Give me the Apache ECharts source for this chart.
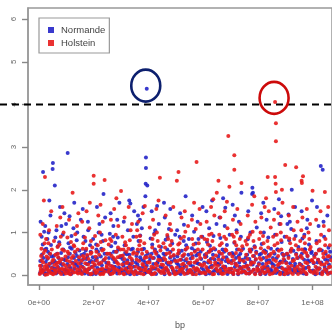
<!DOCTYPE html>
<html><head><meta charset="utf-8">
<script src="https://cdn.jsdelivr.net/npm/echarts@6/dist/echarts.min.js"></script>
<style>html,body{margin:0;padding:0;background:#fff}#c{width:332px;height:335px}</style>
</head><body><div id="c"></div>
<script>
// positions in Mb (axis labels show bp), values = -log10(p)
const xTicks = [0, 20, 40, 60, 80, 100];
const yTicks = [0, 1, 2, 3, 4, 5, 6];
const threshold = 4;
const seriesNames = ['Normande', 'Holstein'];
const circledNormande = [39.4, 4.37];
const circledHolstein = [86.3, 4.06];

const normande = [
[0.4,0.05],[0.8,0.22],[1.2,0.12],[1.6,0.4],[2.1,0.02],[2.5,0.31],[2.9,0.15],[3.3,0.55],[3.6,0.08],[4.0,0.27],[4.4,0.71],[4.8,0.18],[1.0,0.9],[2.3,1.15],[3.1,0.85],[4.2,1.4],[0.6,1.25],[1.5,2.42],[3.8,1.75],[2.7,0.62],[1.9,1.02],[4.6,0.44],
[5.1,2.63],[5.0,2.49],[5.8,2.1],[5.3,0.1],[5.7,0.33],[6.2,0.04],[6.6,0.5],[7.0,0.19],[7.4,0.77],[7.9,0.28],[8.3,0.06],[8.7,0.95],[9.1,0.37],[9.5,0.13],[9.9,1.2],[6.4,1.05],[7.7,1.6],[8.9,0.6],[6.0,0.88],[9.3,1.45],[10.5,2.86],
[10.2,0.09],[10.6,0.42],[11.0,0.2],[11.4,0.65],[11.8,0.03],[12.2,0.3],[12.6,1.1],[13.0,0.15],[13.4,0.52],[13.8,0.82],[14.2,0.07],[14.6,0.36],[11.2,1.38],[12.9,1.7],[14.0,1.0],[10.8,0.75],[13.6,0.24],
[15.1,0.11],[15.5,0.47],[15.9,0.2],[16.3,0.9],[16.7,0.04],[17.1,0.58],[17.5,0.26],[17.9,1.25],[18.3,0.14],[18.7,0.7],[19.1,0.33],[19.5,0.02],[16.0,1.55],[18.0,1.05],[19.8,0.85],[15.3,1.3],[17.3,0.38],
[20.2,0.08],[20.6,0.35],[21.0,0.6],[21.4,0.17],[21.8,1.0],[22.2,0.05],[22.6,0.44],[23.0,0.23],[23.4,0.8],[23.8,0.12],[24.2,1.35],[24.6,0.29],[21.2,1.6],[23.6,1.9],[22.9,0.95],[20.9,0.72],[24.9,0.5],
[25.2,0.14],[25.6,0.4],[26.0,0.03],[26.4,0.68],[26.8,0.21],[27.2,1.15],[27.6,0.31],[28.0,0.09],[28.4,0.55],[28.8,0.88],[29.2,0.18],[29.6,0.42],[26.2,1.45],[28.6,1.3],[27.9,0.76],[25.9,0.97],[29.4,1.7],
[30.1,0.06],[30.5,0.38],[30.9,0.22],[31.3,0.7],[31.7,0.12],[32.1,0.49],[32.5,1.05],[32.9,0.27],[33.3,0.02],[33.7,0.6],[34.1,0.34],[34.5,0.9],[33.0,1.75],[33.4,1.68],[31.0,1.25],[34.8,1.5],[32.0,0.16],
[35.2,0.1],[35.6,0.45],[36.0,0.25],[36.4,0.8],[36.8,0.05],[37.2,0.36],[37.6,1.1],[38.0,0.19],[38.4,0.62],[38.8,0.3],[39.2,0.07],[39.8,0.5],[39.1,2.76],[39.1,2.51],[39.0,2.14],[39.6,2.1],[39.4,4.37],[36.2,1.4],[38.2,1.6],[37.0,0.93],[35.8,1.2],[38.9,1.85],
[40.2,0.13],[40.6,0.4],[41.0,0.04],[41.4,0.72],[41.8,0.26],[42.2,0.98],[42.6,0.15],[43.0,0.53],[43.4,0.31],[43.8,1.2],[44.2,0.08],[44.6,0.66],[41.2,1.5],[43.2,1.62],[40.8,0.86],[44.0,0.42],
[45.1,0.18],[45.5,0.5],[45.9,0.02],[46.3,0.83],[46.7,0.29],[47.1,0.11],[47.5,1.08],[47.9,0.41],[48.3,0.2],[48.7,0.74],[49.1,0.05],[49.5,0.36],[46.0,1.35],[48.0,1.55],[49.8,0.95],[45.7,1.7],
[50.2,0.09],[50.6,0.44],[51.0,0.24],[51.4,0.9],[51.8,0.03],[52.2,0.57],[52.6,0.16],[53.0,1.18],[53.4,0.35],[53.8,0.7],[54.2,0.12],[54.6,0.48],[51.6,1.45],[53.6,1.85],[52.9,0.8],[50.5,1.05],
[55.1,0.07],[55.5,0.39],[55.9,0.63],[56.3,0.21],[56.7,1.02],[57.1,0.1],[57.5,0.46],[57.9,0.28],[58.3,0.85],[58.7,0.04],[59.1,0.55],[59.5,0.17],[56.0,1.4],[58.0,1.25],[59.8,1.6],[57.3,0.74],
[60.2,0.12],[60.6,0.47],[61.0,0.02],[61.4,0.78],[61.8,0.3],[62.2,1.1],[62.6,0.19],[63.0,0.58],[63.4,0.06],[63.8,0.92],[64.2,0.37],[64.6,0.14],[61.2,1.5],[63.3,1.75],[62.5,0.69],[64.9,1.2],
[65.1,0.1],[65.5,0.43],[65.9,0.25],[66.3,0.87],[66.7,0.05],[67.1,0.6],[67.5,0.18],[67.9,1.15],[68.3,0.33],[68.7,0.71],[69.1,0.08],[69.5,0.5],[66.0,1.35],[68.1,1.58],[69.7,0.95],[67.3,1.8],
[70.2,0.15],[70.6,0.52],[71.0,0.03],[71.4,0.76],[71.8,0.27],[72.2,1.05],[72.6,0.11],[73.0,0.45],[73.4,0.2],[73.8,0.9],[74.2,0.06],[74.6,0.62],[74.0,1.93],[71.6,1.4],[73.1,1.25],[70.8,1.65],
[75.1,0.09],[75.5,0.41],[75.9,0.22],[76.3,0.84],[76.7,0.04],[77.1,0.56],[77.5,0.31],[77.9,1.9],[78.0,2.05],[78.2,1.93],[78.4,0.13],[78.8,0.68],[79.2,0.36],[79.6,1.12],[76.5,1.5],[77.3,1.0],
[80.2,0.12],[80.6,0.48],[81.0,0.02],[81.4,0.73],[81.8,0.26],[82.2,1.0],[82.6,0.17],[83.0,0.55],[83.4,0.08],[83.8,0.88],[84.2,0.35],[84.6,0.14],[81.2,1.45],[83.2,1.3],[82.0,1.7],[84.8,0.62],
[85.1,0.1],[85.5,0.4],[85.9,0.23],[86.3,0.95],[86.7,0.05],[87.1,0.6],[87.5,0.19],[87.9,1.2],[88.3,0.32],[88.7,0.78],[89.1,0.07],[89.5,0.46],[86.0,1.55],[88.5,1.38],[89.8,0.9],[87.7,1.78],
[90.2,0.14],[90.6,0.5],[91.0,0.03],[91.4,0.82],[91.8,0.28],[92.2,1.08],[92.6,0.12],[92.4,2.0],[93.0,0.57],[93.4,0.2],[93.8,0.92],[94.2,0.06],[94.6,0.4],[91.2,1.42],[93.6,1.6],[90.8,1.2],
[95.1,0.09],[95.5,0.44],[95.9,0.24],[96.3,0.86],[96.7,0.04],[97.1,0.61],[97.5,0.17],[97.9,1.1],[98.3,0.35],[98.7,0.72],[99.1,0.1],[99.5,0.52],[96.0,1.5],[98.1,1.3],[99.8,1.75],[97.0,0.95],
[100.2,0.11],[100.6,0.46],[101.0,0.02],[101.4,0.8],[101.8,0.3],[102.2,1.15],[102.6,0.15],[103.0,2.56],[103.7,2.47],[103.4,0.58],[103.8,0.08],[104.2,0.9],[104.6,0.37],[105.0,0.13],[105.4,1.4],[105.8,0.64],[106.2,0.05],[106.6,0.42],[101.6,1.6],[104.0,1.25],
[0.5,0.33],[1.1,0.48],[1.8,0.1],[2.2,0.6],[2.6,0.04],[3.0,0.38],[3.4,0.21],[3.9,0.5],[4.3,0.09],[4.9,0.3],[1.4,0.72],[3.5,1.0],
[5.4,0.45],[5.9,0.15],[6.3,0.29],[6.8,0.07],[7.2,0.4],[7.6,0.12],[8.1,0.52],[8.5,0.24],[9.0,0.03],[9.7,0.35],[6.9,0.68],[8.2,1.15],
[10.4,0.26],[10.9,0.05],[11.3,0.5],[11.6,0.17],[12.0,0.62],[12.4,0.08],[12.8,0.4],[13.2,0.27],[13.9,0.45],[14.4,0.19],[14.8,0.58],[11.9,0.92],
[15.3,0.28],[15.7,0.06],[16.1,0.37],[16.5,0.5],[16.9,0.13],[17.7,0.45],[18.1,0.03],[18.5,0.3],[18.9,0.55],[19.3,0.2],[19.7,0.42],[17.0,0.8],
[20.4,0.22],[20.8,0.03],[21.2,0.4],[21.6,0.55],[22.0,0.28],[22.4,0.13],[22.8,0.62],[23.2,0.06],[23.6,0.35],[24.0,0.5],[24.4,0.1],[22.1,1.2],
[25.4,0.27],[25.8,0.06],[26.2,0.5],[26.6,0.12],[27.0,0.38],[27.4,0.55],[27.8,0.2],[28.2,0.32],[28.6,0.04],[29.0,0.6],[29.8,0.14],[27.1,0.9],
[30.3,0.45],[30.7,0.1],[31.1,0.3],[31.5,0.52],[31.9,0.04],[32.3,0.35],[32.7,0.18],[33.1,0.48],[33.5,0.25],[33.9,0.08],[34.3,0.62],[34.7,0.2],
[35.4,0.3],[35.8,0.03],[36.2,0.55],[36.6,0.18],[37.0,0.42],[37.4,0.11],[37.8,0.6],[38.2,0.35],[38.6,0.04],[39.0,0.45],[39.4,0.22],[36.9,1.3],
[40.4,0.33],[40.8,0.06],[41.2,0.5],[41.6,0.15],[42.0,0.4],[42.4,0.6],[42.8,0.03],[43.2,0.28],[43.6,0.45],[44.4,0.2],[44.8,0.38],[42.5,1.05],
[45.3,0.35],[45.7,0.07],[46.1,0.48],[46.5,0.14],[46.9,0.6],[47.3,0.25],[47.7,0.04],[48.1,0.55],[48.5,0.32],[48.9,0.12],[49.3,0.45],[47.0,0.9],
[50.4,0.28],[50.8,0.05],[51.2,0.52],[51.6,0.18],[52.0,0.36],[52.4,0.08],[52.8,0.45],[53.2,0.22],[53.6,0.6],[54.0,0.04],[54.4,0.3],[54.8,0.85],
[55.3,0.24],[55.7,0.1],[56.1,0.45],[56.5,0.03],[56.9,0.58],[57.3,0.3],[57.7,0.14],[58.1,0.5],[58.5,0.26],[58.9,0.07],[59.3,0.38],[59.7,0.9],
[60.4,0.3],[60.8,0.07],[61.2,0.44],[61.6,0.16],[62.0,0.55],[62.4,0.04],[62.8,0.38],[63.2,0.22],[63.6,0.48],[64.0,0.1],[64.4,0.6],[64.8,0.28],
[65.3,0.27],[65.7,0.04],[66.1,0.5],[66.5,0.15],[66.9,0.36],[67.3,0.09],[67.7,0.55],[68.1,0.2],[68.5,0.42],[68.9,0.03],[69.3,0.3],[69.9,0.14],
[70.4,0.33],[70.8,0.06],[71.2,0.48],[71.6,0.19],[72.0,0.4],[72.4,0.6],[72.8,0.02],[73.2,0.3],[73.6,0.5],[74.0,0.16],[74.4,0.36],[74.8,0.09],
[75.3,0.3],[75.7,0.05],[76.1,0.48],[76.5,0.16],[76.9,0.38],[77.3,0.08],[77.7,0.6],[78.1,0.25],[78.6,0.45],[79.0,0.04],[79.4,0.55],[79.8,0.2],
[80.4,0.28],[80.8,0.06],[81.2,0.5],[81.6,0.12],[82.0,0.4],[82.4,0.58],[82.8,0.03],[83.2,0.34],[83.6,0.2],[84.0,0.47],[84.4,0.08],[84.8,0.3],
[85.3,0.26],[85.7,0.05],[86.1,0.5],[86.5,0.14],[86.9,0.4],[87.3,0.6],[87.7,0.08],[88.1,0.3],[88.5,0.18],[88.9,0.5],[89.3,0.03],[89.7,0.35],
[90.4,0.3],[90.8,0.05],[91.2,0.45],[91.6,0.16],[92.0,0.58],[92.8,0.38],[93.2,0.08],[93.6,0.27],[94.0,0.5],[94.4,0.13],[94.8,0.66],[91.7,1.25],
[95.3,0.27],[95.7,0.06],[96.1,0.5],[96.5,0.14],[96.9,0.36],[97.3,0.6],[97.7,0.03],[98.1,0.45],[98.5,0.2],[98.9,0.32],[99.3,0.09],[99.7,0.55],
[100.4,0.28],[100.8,0.07],[101.2,0.5],[101.6,0.17],[102.0,0.36],[102.4,0.6],[102.8,0.04],[103.2,0.3],[104.4,0.2],[104.8,0.5],[105.2,0.06],[105.6,0.35],[106.0,0.25],[106.4,0.55]
];

const holstein = [
[0.3,0.03],[0.7,0.15],[1.0,0.35],[1.3,0.08],[1.7,0.52],[2.0,0.2],[2.4,0.01],[2.8,0.44],[3.2,0.12],[3.5,0.75],[3.9,0.27],[4.3,0.05],[4.7,0.6],[0.5,0.95],[1.4,1.2],[2.6,0.85],[3.7,1.05],[4.5,1.5],[2.2,2.3],[1.8,1.75],[4.9,0.33],[0.9,0.62],[3.0,0.18],
[5.2,0.02],[5.6,0.24],[6.0,0.48],[6.3,0.1],[6.8,0.66],[7.2,0.3],[7.6,0.06],[8.0,0.9],[8.4,0.38],[8.8,0.14],[9.2,0.57],[9.6,0.22],[6.5,1.15],[7.8,1.35],[9.0,1.0],[5.5,0.8],[8.6,1.6],[9.8,0.04],[7.0,0.42],
[10.1,0.16],[10.5,0.55],[10.9,0.04],[11.3,0.32],[11.7,0.78],[12.1,0.11],[12.5,0.45],[12.9,0.2],[13.3,0.96],[13.7,0.07],[14.1,0.6],[14.5,0.28],[14.9,0.13],[12.3,1.93],[11.0,1.3],[13.9,1.15],[12.7,0.7],[10.4,0.88],[14.4,1.45],
[15.2,0.05],[15.6,0.34],[16.0,0.62],[16.4,0.17],[16.8,0.88],[17.2,0.09],[17.6,0.47],[18.0,0.25],[18.4,1.1],[18.8,0.02],[19.2,0.53],[19.6,0.19],[20.0,2.33],[20.0,2.14],[15.8,1.25],[17.4,1.5],[19.0,0.8],[16.6,0.4],[18.6,1.7],
[20.3,0.12],[20.7,0.43],[21.1,0.07],[21.5,0.7],[21.9,0.26],[22.3,1.0],[22.7,0.14],[23.1,0.58],[23.5,0.03],[23.9,0.36],[24.3,0.82],[24.7,0.18],[24.0,2.23],[21.7,1.4],[23.3,1.25],[22.5,1.65],[20.5,0.92],[24.9,0.5],
[25.3,0.08],[25.7,0.5],[26.1,0.22],[26.5,0.8],[26.9,0.04],[27.3,0.4],[27.7,0.15],[28.1,0.95],[28.5,0.3],[28.9,0.65],[29.3,0.1],[29.7,0.45],[30.0,1.97],[26.3,1.3],[27.5,1.55],[29.0,1.15],[25.5,0.72],[28.3,1.8],
[30.3,0.14],[30.7,0.46],[31.1,0.02],[31.5,0.77],[31.9,0.28],[32.3,0.1],[32.7,0.62],[33.1,0.2],[33.5,1.05],[33.9,0.38],[34.3,0.06],[34.7,0.54],[31.3,1.35],[32.8,1.6],[34.0,1.2],[30.5,0.9],[33.2,0.82],
[35.3,0.09],[35.7,0.37],[36.1,0.6],[36.5,0.16],[36.9,0.92],[37.3,0.04],[37.7,0.5],[38.1,0.24],[38.5,0.75],[38.9,0.12],[39.3,0.42],[39.7,0.3],[36.3,1.25],[37.9,1.45],[35.9,1.05],[38.7,1.62],[37.1,0.8],
[40.3,0.07],[40.7,0.45],[41.1,0.2],[41.5,0.85],[41.9,0.03],[42.3,0.56],[42.7,0.27],[43.1,1.0],[43.5,0.13],[43.9,0.68],[44.3,0.35],[44.7,0.05],[44.2,2.28],[41.7,1.3],[42.9,1.55],[40.5,1.12],[43.7,1.75],
[45.3,0.11],[45.7,0.4],[46.1,0.65],[46.5,0.18],[46.9,0.94],[47.3,0.06],[47.7,0.52],[48.1,0.29],[48.5,0.8],[48.9,0.15],[49.3,0.47],[49.7,0.02],[46.3,1.4],[47.9,1.2],[49.1,1.6],[45.5,0.75],[48.3,1.05],
[50.3,0.04],[50.7,0.33],[51.1,0.58],[51.5,0.12],[51.9,0.86],[52.3,0.25],[52.7,0.07],[53.1,0.49],[53.5,1.02],[53.9,0.2],[54.3,0.64],[54.7,0.1],[51.0,2.42],[50.4,2.21],[52.1,1.35],[53.3,1.5],[54.5,1.15],[50.9,0.72],
[55.3,0.13],[55.7,0.5],[56.1,0.03],[56.5,0.72],[56.9,0.3],[57.3,1.08],[57.7,0.16],[58.1,0.6],[58.5,0.08],[58.9,0.4],[59.3,0.9],[59.7,0.22],[57.6,2.65],[55.9,1.3],[58.7,1.55],[56.7,1.7],[59.0,1.2],
[60.3,0.06],[60.7,0.42],[61.1,0.19],[61.5,0.83],[61.9,0.1],[62.3,0.55],[62.7,0.3],[63.1,0.97],[63.5,0.02],[63.9,0.63],[64.3,0.24],[64.7,0.46],[65.0,1.93],[61.3,1.25],[62.9,1.6],[64.1,1.4],[60.5,0.85],[63.7,1.78],
[65.3,0.1],[65.6,2.21],[65.7,0.36],[66.1,0.7],[66.5,0.05],[66.9,0.5],[67.3,0.21],[67.7,0.9],[68.1,0.14],[68.5,0.58],[68.9,1.1],[69.2,3.26],[69.6,2.07],[69.3,0.32],[69.7,0.07],[66.3,1.35],[67.9,1.5],[68.7,1.72],[65.9,0.95],
[70.3,0.15],[70.7,0.44],[71.1,0.03],[71.4,2.81],[71.4,2.47],[71.5,0.78],[71.9,0.26],[72.3,1.0],[72.7,0.11],[73.1,0.6],[73.5,0.35],[73.9,0.07],[74.0,2.16],[74.3,0.68],[74.7,0.2],[70.9,1.3],[72.5,1.55],[73.7,1.2],[71.2,0.9],
[75.3,0.08],[75.7,0.48],[76.1,0.22],[76.5,0.88],[76.9,0.04],[77.3,0.55],[77.7,0.3],[78.1,1.02],[78.5,0.13],[78.9,0.65],[79.3,0.38],[79.7,0.1],[76.3,1.4],[77.9,1.65],[79.1,1.25],[75.5,0.8],[78.7,1.85],
[80.3,0.12],[80.7,0.4],[81.1,0.63],[81.5,0.18],[81.9,0.92],[82.3,0.05],[82.7,0.52],[83.1,0.27],[83.6,2.3],[83.5,0.8],[83.9,0.09],[84.3,0.45],[84.7,1.12],[81.3,1.35],[82.5,1.6],[84.0,1.5],[80.5,0.85],[83.0,1.8],
[85.3,0.04],[85.7,0.36],[86.1,0.7],[86.3,4.06],[86.6,3.56],[86.6,3.14],[86.3,2.3],[86.5,2.14],[86.6,1.95],[86.5,0.15],[86.9,0.95],[87.3,0.24],[87.7,0.57],[88.1,0.02],[88.5,0.82],[88.8,2.0],[88.9,0.3],[89.3,0.48],[89.7,0.13],[85.9,1.3],[87.5,1.45],[88.3,1.2],[89.0,1.7],
[90.0,2.58],[90.3,0.1],[90.7,0.5],[91.1,0.2],[91.5,0.86],[91.9,0.06],[92.3,0.62],[92.7,0.33],[93.1,1.05],[93.5,0.15],[93.9,0.7],[94.0,2.53],[94.3,0.4],[94.7,0.03],[91.3,1.4],[92.9,1.6],[94.5,1.25],[90.5,0.9],
[95.3,0.14],[95.7,0.45],[96.0,2.21],[96.1,2.16],[96.1,0.6],[96.5,2.32],[96.5,0.2],[96.9,0.9],[97.3,0.07],[97.7,0.52],[98.1,0.28],[98.5,1.0],[98.9,0.11],[99.3,0.66],[99.7,0.35],[100.0,1.98],[96.3,1.35],[97.9,1.55],[99.1,1.2],[95.5,0.8],
[100.3,0.05],[100.7,0.42],[101.1,0.2],[101.5,0.75],[101.9,0.12],[102.3,0.58],[102.7,0.3],[103.1,0.95],[103.5,0.02],[103.9,0.5],[104.3,0.25],[104.5,1.95],[104.7,0.85],[105.1,0.1],[105.5,0.44],[105.9,0.18],[106.3,0.7],[106.7,0.06],[101.3,1.3],[102.9,1.5],[104.1,1.15],[105.7,1.6],[106.0,1.05],
[0.4,0.22],[0.8,0.45],[1.1,0.06],[1.5,0.3],[1.9,0.12],[2.3,0.58],[2.7,0.24],[3.1,0.02],[3.4,0.4],[3.8,0.1],[4.1,0.5],[4.6,0.16],[4.8,0.04],[2.1,0.75],[0.6,0.1],
[5.3,0.36],[5.8,0.12],[6.1,0.05],[6.5,0.28],[6.9,0.5],[7.3,0.14],[7.7,0.33],[8.1,0.03],[8.5,0.6],[8.9,0.26],[9.3,0.08],[9.7,0.44],[6.7,0.2],[8.3,0.15],[7.5,0.72],
[10.2,0.35],[10.6,0.1],[11.1,0.22],[11.5,0.02],[11.9,0.4],[12.3,0.27],[12.7,0.06],[13.1,0.55],[13.5,0.33],[13.9,0.14],[14.3,0.04],[14.7,0.42],[11.3,0.12],[12.9,0.68],[10.8,0.5],
[15.3,0.2],[15.7,0.03],[16.1,0.45],[16.5,0.1],[16.9,0.28],[17.3,0.62],[17.7,0.07],[18.1,0.38],[18.5,0.16],[18.9,0.5],[19.3,0.04],[19.7,0.3],[16.2,0.75],[17.9,0.14],[19.5,0.65],
[20.4,0.25],[20.8,0.05],[21.2,0.34],[21.6,0.12],[22.0,0.48],[22.4,0.02],[22.8,0.3],[23.2,0.15],[23.6,0.6],[24.0,0.08],[24.4,0.4],[24.8,0.22],[21.0,0.55],[23.0,0.04],[22.6,0.78],
[25.4,0.3],[25.8,0.14],[26.2,0.03],[26.6,0.45],[27.0,0.2],[27.4,0.07],[27.8,0.36],[28.2,0.55],[28.6,0.12],[29.0,0.26],[29.4,0.04],[29.8,0.6],[26.0,0.85],[27.2,0.15],[28.8,0.42],
[30.4,0.25],[30.8,0.04],[31.2,0.38],[31.6,0.15],[32.0,0.55],[32.4,0.3],[32.8,0.06],[33.2,0.42],[33.6,0.12],[34.0,0.28],[34.4,0.5],[34.8,0.02],[31.8,0.7],[33.8,0.18],[30.9,0.6],
[35.4,0.2],[35.8,0.5],[36.2,0.05],[36.6,0.33],[37.0,0.14],[37.4,0.6],[37.8,0.26],[38.2,0.02],[38.6,0.4],[39.0,0.18],[39.4,0.55],[39.8,0.08],[36.7,0.7],[38.3,0.12],[35.6,0.9],
[40.4,0.3],[40.8,0.12],[41.2,0.02],[41.6,0.4],[42.0,0.18],[42.4,0.05],[42.8,0.5],[43.2,0.22],[43.6,0.36],[44.0,0.1],[44.4,0.58],[44.8,0.25],[41.4,0.65],[43.4,0.8],[42.1,0.95],
[45.4,0.24],[45.8,0.05],[46.2,0.36],[46.6,0.5],[47.0,0.12],[47.4,0.3],[47.8,0.02],[48.2,0.44],[48.6,0.18],[49.0,0.6],[49.4,0.08],[49.8,0.33],[46.0,0.15],[48.0,0.7],[47.2,0.85],
[50.4,0.18],[50.8,0.5],[51.2,0.08],[51.6,0.36],[52.0,0.14],[52.4,0.45],[52.8,0.27],[53.2,0.03],[53.6,0.6],[54.0,0.38],[54.4,0.05],[54.8,0.28],[51.4,0.75],[53.0,0.9],[52.5,0.15],
[55.4,0.3],[55.8,0.07],[56.2,0.4],[56.6,0.17],[57.0,0.55],[57.4,0.02],[57.8,0.35],[58.2,0.13],[58.6,0.48],[59.0,0.25],[59.4,0.05],[59.8,0.6],[56.0,0.85],[58.4,0.75],[57.2,0.12],
[60.4,0.26],[60.8,0.04],[61.2,0.5],[61.6,0.12],[62.0,0.34],[62.4,0.08],[62.8,0.6],[63.2,0.18],[63.6,0.4],[64.0,0.03],[64.4,0.3],[64.8,0.15],[61.8,0.72],[63.4,0.8],[62.2,0.95],
[65.4,0.22],[65.8,0.55],[66.2,0.12],[66.6,0.3],[67.0,0.03],[67.4,0.42],[67.8,0.18],[68.2,0.6],[68.6,0.08],[69.0,0.36],[69.4,0.15],[69.8,0.5],[66.8,0.75],[68.4,0.85],[67.6,0.04],
[70.4,0.28],[70.8,0.06],[71.2,0.35],[71.6,0.12],[72.0,0.52],[72.4,0.22],[72.8,0.04],[73.2,0.4],[73.6,0.16],[74.0,0.58],[74.4,0.09],[74.8,0.33],[72.1,0.7],[73.4,0.85],[70.6,0.95],
[75.4,0.2],[75.8,0.04],[76.2,0.38],[76.6,0.14],[77.0,0.6],[77.4,0.25],[77.8,0.08],[78.2,0.45],[78.6,0.3],[79.0,0.02],[79.4,0.52],[79.8,0.16],[76.0,0.72],[78.4,0.8],[77.1,0.95],
[80.4,0.25],[80.8,0.03],[81.2,0.36],[81.6,0.1],[82.0,0.55],[82.4,0.2],[82.8,0.07],[83.2,0.42],[83.6,0.15],[84.0,0.3],[84.4,0.02],[84.8,0.5],[82.1,0.75],[83.8,0.65],[81.0,1.0],
[85.4,0.2],[85.8,0.55],[86.2,0.08],[86.6,0.33],[87.0,0.12],[87.4,0.45],[87.8,0.27],[88.2,0.05],[88.6,0.6],[89.0,0.16],[89.4,0.38],[89.8,0.02],[87.2,0.75],[85.6,0.9],[88.4,1.0],
[90.4,0.28],[90.8,0.05],[91.2,0.4],[91.6,0.14],[92.0,0.55],[92.4,0.22],[92.8,0.03],[93.2,0.35],[93.6,0.1],[94.0,0.48],[94.4,0.2],[94.8,0.6],[91.8,0.75],[93.3,0.85],[90.6,0.12],
[95.4,0.25],[95.8,0.06],[96.2,0.4],[96.6,0.12],[97.0,0.55],[97.4,0.3],[97.8,0.03],[98.2,0.45],[98.6,0.18],[99.0,0.6],[99.4,0.08],[99.8,0.35],[97.2,0.75],[98.8,0.85],[95.9,1.05],
[100.4,0.3],[100.8,0.1],[101.2,0.5],[101.6,0.04],[102.0,0.36],[102.4,0.16],[102.8,0.6],[103.2,0.25],[103.6,0.07],[104.0,0.42],[104.4,0.14],[104.8,0.55],[105.2,0.3],[105.6,0.03],[106.0,0.45],[106.4,0.2],[106.8,0.35],[102.5,0.8],[104.6,0.7]
];

function rSci(v) {
  const bp = v * 1e6;
  if (bp === 0) return '0e+00';
  const e = Math.floor(Math.log10(bp) + 1e-9);
  const m = Math.round(bp / Math.pow(10, e));
  return m + 'e+' + (e < 10 ? '0' + e : e);
}

const FONT = 'Liberation Sans';
const chart = echarts.init(document.getElementById('c'), null, {renderer: 'canvas'});
chart.setOption({
  animation: false,
  backgroundColor: '#fff',
  grid: {left: 28, right: -2, top: 8, bottom: 48, show: true, borderColor: '#999', borderWidth: 1.5, backgroundColor: 'transparent'},
  legend: {
    left: 39, top: 18, orient: 'vertical', icon: 'rect', itemWidth: 6, itemHeight: 6, itemGap: 3,
    padding: [7, 4, 5, 9], borderColor: '#999', borderWidth: 1.2, borderRadius: 0,
    textStyle: {fontFamily: FONT, fontSize: 9.5, color: '#444', padding: [0, 0, 0, 2]},
    data: seriesNames
  },
  xAxis: {
    type: 'value', min: -4, max: 107.1,
    name: 'bp', nameLocation: 'middle', nameGap: 36,
    nameTextStyle: {fontFamily: FONT, fontSize: 9, color: '#555'},
    axisLine: {show: true, onZero: false, lineStyle: {color: '#999', width: 1.5}},
    axisTick: {show: true, inside: false, length: 5, lineStyle: {color: '#888', width: 1.4}, customValues: xTicks},
    axisLabel: {fontFamily: FONT, fontSize: 8, color: '#666', margin: 14, customValues: xTicks, formatter: rSci},
    splitLine: {show: false}
  },
  yAxis: {
    type: 'value', min: -0.23, max: 6.26,
    axisLine: {show: true, onZero: false, lineStyle: {color: '#999', width: 1.5}},
    axisTick: {show: true, inside: false, length: 6, lineStyle: {color: '#888', width: 1.4}, customValues: yTicks},
    axisLabel: {fontFamily: FONT, fontSize: 8, color: '#666', margin: 10, rotate: 90, customValues: yTicks},
    splitLine: {show: false}
  },
  series: [
    {name: seriesNames[0], type: 'scatter', data: normande, symbolSize: 4, itemStyle: {color: '#2323c8', opacity: 0.9}},
    {name: seriesNames[1], type: 'scatter', data: holstein, symbolSize: 4, itemStyle: {color: '#e81c1c', opacity: 0.9}}
  ]
});

const yThr = chart.convertToPixel({yAxisIndex: 0}, threshold);
const pb = chart.convertToPixel({gridIndex: 0}, circledNormande);
const pr = chart.convertToPixel({gridIndex: 0}, circledHolstein);
chart.setOption({
  graphic: [
    {type: 'line', shape: {x1: 0, y1: yThr, x2: 332, y2: yThr}, style: {stroke: '#000', lineWidth: 2, lineDash: [7, 5]}, z: 100},
    {type: 'ellipse', shape: {cx: pb[0] - 1, cy: pb[1] - 3, rx: 14.5, ry: 16}, style: {fill: null, stroke: '#0c1f6e', lineWidth: 2.6}, z: 100},
    {type: 'ellipse', shape: {cx: pr[0] - 1, cy: pr[1] - 4, rx: 14.5, ry: 16}, style: {fill: null, stroke: '#cc0a0a', lineWidth: 2.6}, z: 100}
  ]
});
</script></body></html>
